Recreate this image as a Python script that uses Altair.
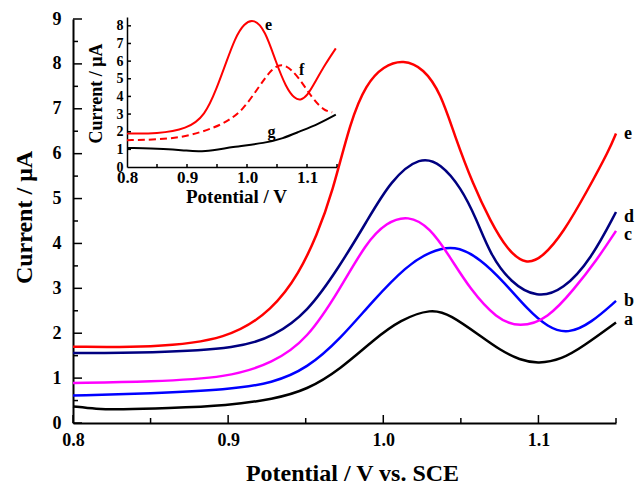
import altair as alt
import pandas as pd

FONT = "Liberation Serif"

# ---------------- main plot data ----------------
a_v = [0.800, 0.815, 0.830, 0.860, 0.900, 0.929, 0.951, 0.972, 0.994, 1.011, 1.031, 1.043, 1.063, 1.075, 1.088, 1.100, 1.115, 1.129, 1.150]
a_i = [0.37, 0.31, 0.30, 0.33, 0.39, 0.53, 0.74, 1.19, 1.86, 2.30, 2.55, 2.42, 1.93, 1.63, 1.40, 1.32, 1.42, 1.71, 2.24]

b_v = [0.800, 0.850, 0.900, 0.929, 0.951, 0.972, 0.994, 1.015, 1.030, 1.046, 1.063, 1.078, 1.093, 1.106, 1.119, 1.134, 1.150]
b_i = [0.61, 0.66, 0.74, 0.89, 1.22, 1.86, 2.75, 3.50, 3.82, 3.97, 3.65, 3.13, 2.53, 2.13, 1.98, 2.23, 2.72]

c_v = [0.800, 0.850, 0.900, 0.929, 0.951, 0.972, 0.989, 1.002, 1.016, 1.030, 1.043, 1.056, 1.073, 1.088, 1.106, 1.123, 1.138, 1.150]
c_i = [0.89, 0.92, 1.01, 1.34, 1.86, 2.98, 4.02, 4.47, 4.63, 4.36, 3.70, 2.98, 2.32, 2.12, 2.32, 2.98, 3.65, 4.28]

d_v = [0.800, 0.850, 0.908, 0.929, 0.951, 0.972, 0.989, 1.005, 1.024, 1.037, 1.050, 1.060, 1.069, 1.082, 1.099, 1.116, 1.134, 1.150]
d_i = [1.56, 1.56, 1.67, 1.93, 2.45, 3.50, 4.47, 5.42, 5.95, 5.78, 5.25, 4.55, 3.75, 3.13, 2.78, 2.96, 3.65, 4.70]

e_v = [0.800, 0.850, 0.900, 0.929, 0.946, 0.957, 0.967, 0.979, 0.989, 1.000, 1.013, 1.026, 1.037, 1.046, 1.058, 1.069, 1.080, 1.092, 1.103, 1.116, 1.131, 1.146, 1.150]
e_i = [1.70, 1.68, 1.85, 2.53, 3.35, 4.17, 5.10, 6.75, 7.55, 7.95, 8.10, 7.90, 7.35, 6.40, 5.30, 4.50, 3.85, 3.52, 3.70, 4.24, 5.14, 6.11, 6.45]

main_names = ["a", "b", "c", "d", "e"]
main_label_v = [1.15, 1.15, 1.15, 1.15, 1.15]
main_label_i = [2.30, 2.71, 4.18, 4.59, 6.44]

# ---------------- inset data ----------------
ie_v = [0.800, 0.850, 0.900, 0.930, 0.950, 0.965, 0.980, 0.995, 1.012, 1.030, 1.048, 1.065, 1.080, 1.089, 1.100, 1.115, 1.130, 1.148]
ie_i = [1.90, 1.88, 2.15, 2.90, 4.50, 5.90, 7.30, 8.15, 8.40, 7.75, 5.97, 4.50, 3.85, 3.78, 4.00, 4.90, 5.80, 6.72]

if_v = [0.800, 0.850, 0.899, 0.949, 0.970, 0.993, 1.020, 1.042, 1.062, 1.086, 1.109, 1.128, 1.142]
if_i = [1.52, 1.55, 1.70, 2.27, 2.65, 3.22, 4.55, 5.62, 5.92, 5.11, 3.88, 3.20, 3.10]

ig_v = [0.800, 0.866, 0.900, 0.927, 0.976, 1.031, 1.060, 1.086, 1.120, 1.148]
ig_i = [1.08, 1.04, 0.92, 0.85, 1.14, 1.36, 1.62, 1.99, 2.45, 2.97]

inset_names = ["e", "f", "g"]
inset_label_v = [1.036, 1.091, 1.041]
inset_label_i = [8.05, 5.49, 1.97]

# ticks
main_x_major = [0.8, 0.9, 1.0, 1.1]
main_x_minor = [0.85, 0.95, 1.05, 1.15]
main_y_major = [0, 1, 2, 3, 4, 5, 6, 7, 8, 9]
main_y_minor = [0.5, 1.5, 2.5, 3.5, 4.5, 5.5, 6.5, 7.5, 8.5]
inset_x_ticks = [0.85, 0.9, 0.95, 1.0, 1.05, 1.1, 1.15]
inset_x_labels = [0.8, 0.9, 1.0, 1.1]
inset_y_ticks = [1, 2, 3, 4, 5, 6, 7, 8]
inset_y_labels = [0, 1, 2, 3, 4, 5, 6, 7, 8]

series_domain = ["a", "b", "c", "d", "e", "f", "g"]
series_colors = ["#000000", "#0000FF", "#FF00FF", "#000080", "#FF0000", "#FF0000", "#000000"]


def long_df(items):
    rows = []
    for name, vs, cs in items:
        for v, c in zip(vs, cs):
            rows.append({"V": v, "I": c, "s": name})
    return pd.DataFrame(rows)


main_df = long_df([("a", a_v, a_i), ("b", b_v, b_i), ("c", c_v, c_i), ("d", d_v, d_i), ("e", e_v, e_i)])
inset_solid_df = long_df([("e", ie_v, ie_i), ("g", ig_v, ig_i)])
inset_dash_df = long_df([("f", if_v, if_i)])

W, H = 543, 404
color = alt.Color("s:N", scale=alt.Scale(domain=series_domain, range=series_colors), legend=None)

# ---------------- main scales/axes ----------------
mx_scale = alt.Scale(domain=[0.8, 1.15], nice=False, zero=False)
my_scale = alt.Scale(domain=[0, 9], nice=False, zero=True)

main_x_axis = alt.Axis(
    orient="bottom", values=main_x_major, format=".1f", ticks=False, grid=False,
    labelFont=FONT, labelFontWeight="bold", labelFontSize=18, labelColor="black",
    labelPadding=8, labelFlush=False, labelOverlap=False,
    domainColor="black", domainWidth=2,
    title="Potential / V vs. SCE", titleFont=FONT, titleFontWeight="bold", titleFontSize=24,
    titleColor="black", titleX=279, titleY=50, titleBaseline="middle", titleAlign="center",
)
main_y_axis = alt.Axis(
    orient="left", values=main_y_major, format="d", ticks=False, grid=False,
    labelFont=FONT, labelFontWeight="bold", labelFontSize=18, labelColor="black",
    labelPadding=12, labelFlush=False, labelOverlap=False,
    domainColor="black", domainWidth=2,
    title="Current / μA", titleFont=FONT, titleFontWeight="bold", titleFontSize=24,
    titleColor="black", titleX=-49, titleY=198, titleBaseline="middle", titleAlign="center",
)

main_lines = alt.Chart(main_df).mark_line(strokeWidth=2.5, interpolate="basis").encode(
    x=alt.X("V:Q", scale=mx_scale, axis=main_x_axis),
    y=alt.Y("I:Q", scale=my_scale, axis=main_y_axis),
    color=color,
    detail="s:N",
)


def xticks(vals, length, scale, base):
    return alt.Chart(pd.DataFrame({"V": vals})).mark_rule(color="black", strokeWidth=1.5).encode(
        x=alt.X("V:Q", scale=scale, axis=None),
        y=alt.value(base), y2=alt.value(base - length),
    )


def yticks(vals, length, scale, base):
    return alt.Chart(pd.DataFrame({"I": vals})).mark_rule(color="black", strokeWidth=1.5).encode(
        y=alt.Y("I:Q", scale=scale, axis=None),
        x=alt.value(base), x2=alt.value(base + length),
    )


main_labels = alt.Chart(pd.DataFrame({"V": main_label_v, "I": main_label_i, "s": main_names})).mark_text(
    align="left", baseline="middle", dx=8, font=FONT, fontWeight="bold", fontSize=18, color="black"
).encode(
    x=alt.X("V:Q", scale=mx_scale, axis=None),
    y=alt.Y("I:Q", scale=my_scale, axis=None),
    text="s:N",
)

# ---------------- inset scales/axes ----------------
IX0, IX1 = 54, 264
IY0, IY1 = 148, -2
ix_scale = alt.Scale(domain=[0.8, 1.15], range=[IX0, IX1], nice=False, zero=False)
iy_scale = alt.Scale(domain=[0, 8.5], range=[IY0, IY1], nice=False, zero=True)

inset_x_axis = alt.Axis(
    orient="bottom", offset=IY0 - H, values=inset_x_labels, format=".1f", ticks=False, grid=False,
    labelFont=FONT, labelFontWeight="bold", labelFontSize=17, labelColor="black",
    labelPadding=2, labelFlush=False, labelOverlap=False,
    domainColor="black", domainWidth=1.5,
    title="Potential / V", titleFont=FONT, titleFontWeight="bold", titleFontSize=19,
    titleColor="black", titleX=163, titleY=29, titleBaseline="middle", titleAlign="center",
)
inset_y_axis = alt.Axis(
    orient="left", offset=-IX0, values=inset_y_labels, format="d", ticks=False, grid=False,
    labelFont=FONT, labelFontWeight="bold", labelFontSize=14, labelColor="black",
    labelPadding=4, labelFlush=False, labelOverlap=False,
    domainColor="black", domainWidth=1.5,
    title="Current / μA", titleFont=FONT, titleFontWeight="bold", titleFontSize=18,
    titleColor="black", titleX=-31, titleY=74, titleBaseline="middle", titleAlign="center",
)

inset_solid = alt.Chart(inset_solid_df).mark_line(strokeWidth=2, interpolate="basis").encode(
    x=alt.X("V:Q", scale=ix_scale, axis=inset_x_axis),
    y=alt.Y("I:Q", scale=iy_scale, axis=inset_y_axis),
    color=color,
    detail="s:N",
)
inset_dash = alt.Chart(inset_dash_df).mark_line(strokeWidth=2, interpolate="basis", strokeDash=[7, 4]).encode(
    x=alt.X("V:Q", scale=ix_scale, axis=None),
    y=alt.Y("I:Q", scale=iy_scale, axis=None),
    color=color,
)
inset_labels = alt.Chart(pd.DataFrame({"V": inset_label_v, "I": inset_label_i, "s": inset_names})).mark_text(
    align="center", baseline="middle", font=FONT, fontWeight="bold", fontSize=16, color="black"
).encode(
    x=alt.X("V:Q", scale=ix_scale, axis=None),
    y=alt.Y("I:Q", scale=iy_scale, axis=None),
    text="s:N",
)

chart = alt.layer(
    main_lines,
    xticks(main_x_major, 8, mx_scale, H), xticks(main_x_minor, 5, mx_scale, H),
    yticks(main_y_major, 9, my_scale, 0), yticks(main_y_minor, 5, my_scale, 0),
    main_labels,
    inset_solid, inset_dash,
    xticks(inset_x_ticks, 3, ix_scale, IY0),
    yticks(inset_y_ticks, 4, iy_scale, IX0),
    inset_labels,
).resolve_scale(x="independent", y="independent").properties(
    width=W, height=H,
    padding={"left": 73, "top": 19, "right": 19, "bottom": 65},
    autosize=alt.AutoSizeParams(type="none"),
    background="white",
).configure_view(stroke=None)

chart.save("out.html", embed_options={"renderer": "svg", "actions": False})
